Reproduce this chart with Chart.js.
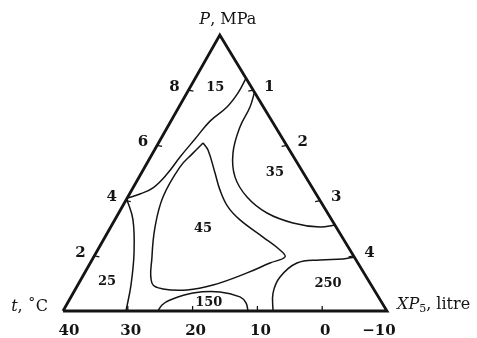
<!DOCTYPE html>
<html>
<head>
<meta charset="utf-8">
<script src="https://cdn.jsdelivr.net/npm/chart.js@4.4.1/dist/chart.umd.min.js"></script>
<style>
  html, body { margin: 0; padding: 0; background: #fff; }
  #wrap { width: 477px; height: 338px; position: relative; }
</style>
</head>
<body>
<div id="wrap"><canvas id="chart"></canvas></div>
<script>
// plot coords: x = t (°C) along the base, y = P (MPa) height of the triangle
const corners = [{x: 40, y: 0}, {x: 15.8, y: 10}, {x: -10, y: 0}];  // t-corner, P-corner, XP5-corner
const tTicks = [40, 30, 20, 10, 0, -10];
const pTicks = [2, 4, 6, 8];
const xpTicks = [1, 2, 3, 4];
const pMax = 10;
const xpMax = 5;

// contour lines
const line15 = [
    {x: 30.09, y: 4.09}, {x: 28.12, y: 4.24}, {x: 26.11, y: 4.46}, {x: 23.95, y: 4.96},
    {x: 21.94, y: 5.58}, {x: 19.63, y: 6.23}, {x: 17.31, y: 6.88}, {x: 14.69, y: 7.39},
    {x: 12.99, y: 7.90}, {x: 11.75, y: 8.44}
];
const line35 = [
    {x: 10.44, y: 7.93}, {x: 11.14, y: 7.39}, {x: 12.69, y: 6.67}, {x: 13.77, y: 5.72},
    {x: 13.46, y: 4.86}, {x: 11.60, y: 4.13}, {x: 8.52, y: 3.55}, {x: 4.51, y: 3.19},
    {x: 0.34, y: 3.04}, {x: -1.96, y: 3.12}
];
const loop45 = [
    {x: 18.40, y: 6.09}, {x: 17.62, y: 5.83}, {x: 16.54, y: 5.00}, {x: 15.77, y: 4.38},
    {x: 14.54, y: 3.77}, {x: 12.69, y: 3.30}, {x: 9.14, y: 2.68}, {x: 6.51, y: 2.21},
    {x: 5.74, y: 1.96}, {x: 8.06, y: 1.74}, {x: 11.60, y: 1.38}, {x: 16.85, y: 0.94},
    {x: 20.86, y: 0.76}, {x: 24.57, y: 0.80}, {x: 26.27, y: 1.01}, {x: 26.27, y: 1.96},
    {x: 25.80, y: 3.04}, {x: 24.57, y: 4.13}, {x: 21.94, y: 5.22}, {x: 19.94, y: 5.72},
    {x: 18.40, y: 6.09}
];
const line25 = [
    {x: 30.16, y: 4.06}, {x: 29.20, y: 3.30}, {x: 29.04, y: 2.10}, {x: 29.51, y: 0.94},
    {x: 30.28, y: 0}
];
const line150 = [
    {x: 25.34, y: 0}, {x: 24.72, y: 0.22}, {x: 23.49, y: 0.40}, {x: 19.94, y: 0.65},
    {x: 15.77, y: 0.69}, {x: 12.69, y: 0.51}, {x: 11.76, y: 0.29}, {x: 11.45, y: 0}
];
const line250 = [
    {x: 7.59, y: 0}, {x: 7.59, y: 0.65}, {x: 6.51, y: 1.23}, {x: 3.89, y: 1.74},
    {x: 0.34, y: 1.85}, {x: -3.21, y: 1.88}, {x: -5.0, y: 1.96}
];

const zoneLabels = [
    {text: '15', x: 16.5, y: 8.1},
    {text: '35', x: 7.3, y: 5.0},
    {text: '45', x: 18.4, y: 3.0},
    {text: '25', x: 33.2, y: 1.05},
    {text: '150', x: 17.5, y: 0.3},
    {text: '250', x: -0.9, y: 1.0}
];

const INK = '#141414';
const SERIF = '"DejaVu Serif", serif';

function contour(data) {
    return {data: data, showLine: true, borderColor: INK, borderWidth: 1.5,
            pointRadius: 0, tension: 0.4, clip: false};
}

const lerp = (a, b, f) => ({x: a.x + (b.x - a.x) * f, y: a.y + (b.y - a.y) * f});

// draws tick marks, numbers, zone labels and axis titles on the triangle
const ternaryAxes = {
    id: 'ternaryAxes',
    afterDatasetsDraw(chart) {
        const {ctx, scales: {x, y}} = chart;
        const toPx = p => ({x: x.getPixelForValue(p.x), y: y.getPixelForValue(p.y)});
        const [bl, top, br] = corners;
        ctx.save();
        ctx.strokeStyle = INK;
        ctx.fillStyle = INK;
        ctx.lineWidth = 1.3;
        ctx.font = 'bold 15px ' + SERIF;
        ctx.textAlign = 'center';
        ctx.textBaseline = 'middle';

        pTicks.forEach(v => {
            const p = toPx(lerp(bl, top, v / pMax));
            ctx.beginPath(); ctx.moveTo(p.x, p.y); ctx.lineTo(p.x + 5, p.y + 1); ctx.stroke();
            ctx.fillText(String(v), p.x - 14, p.y - 3);
        });
        xpTicks.forEach(v => {
            const p = toPx(lerp(top, br, v / xpMax));
            ctx.beginPath(); ctx.moveTo(p.x, p.y); ctx.lineTo(p.x - 5, p.y + 1); ctx.stroke();
            ctx.fillText(String(v), p.x + 16, p.y - 3);
        });
        ctx.textBaseline = 'alphabetic';
        tTicks.forEach((v, i) => {
            const p = toPx({x: v, y: 0});
            if (i > 0 && i < tTicks.length - 1) {
                ctx.beginPath(); ctx.moveTo(p.x, p.y); ctx.lineTo(p.x, p.y - 5); ctx.stroke();
            }
            let dx = 3;
            if (i === 0) dx = 6;
            if (i === tTicks.length - 1) dx = -8;
            ctx.fillText(v < 0 ? '\u2212' + Math.abs(v) : String(v), p.x + dx, p.y + 24);
        });

        ctx.font = 'bold 13px ' + SERIF;
        ctx.textBaseline = 'middle';
        zoneLabels.forEach(l => {
            const p = toPx(l);
            ctx.fillText(l.text, p.x, p.y);
        });

        // axis titles, drawn piece by piece for the italics
        const pieces = (parts, startX, baseY) => {
            let cx = startX;
            parts.forEach(pt => {
                ctx.font = pt.font;
                ctx.fillText(pt.text, cx, baseY + (pt.dy || 0));
                cx += ctx.measureText(pt.text).width;
            });
            return cx;
        };
        const width = parts => parts.reduce((w, pt) => { ctx.font = pt.font; return w + ctx.measureText(pt.text).width; }, 0);
        ctx.textAlign = 'left';
        ctx.textBaseline = 'alphabetic';

        const pTitle = [
            {text: 'P', font: 'italic 16px ' + SERIF},
            {text: ', MPa', font: '16px ' + SERIF}
        ];
        const tp = toPx(top);
        pieces(pTitle, tp.x + 8 - width(pTitle) / 2, tp.y - 11);

        const tTitle = [
            {text: 't', font: 'italic 16px ' + SERIF},
            {text: ', \u02daC', font: '16px ' + SERIF}
        ];
        const lp = toPx(bl);
        pieces(tTitle, lp.x - 15 - width(tTitle), lp.y);

        const xTitle = [
            {text: 'XP', font: 'italic 16px ' + SERIF},
            {text: '5', font: '11px ' + SERIF, dy: 3},
            {text: ', litre', font: '16px ' + SERIF}
        ];
        const rp = toPx(br);
        pieces(xTitle, rp.x + 10, rp.y - 2);
        ctx.restore();
    }
};

new Chart(document.getElementById('chart'), {
    type: 'scatter',
    data: {
        datasets: [
            {data: corners.concat([corners[0]]), showLine: true, borderColor: INK,
             borderWidth: 2.8, pointRadius: 0, tension: 0, clip: false},
            contour(line15),
            contour(line35),
            contour(loop45),
            contour(line25),
            contour(line150),
            contour(line250)
        ]
    },
    options: {
        responsive: true,
        maintainAspectRatio: false,
        animation: false,
        layout: {padding: {left: 63, right: 90, top: 35, bottom: 27}},
        plugins: {legend: {display: false}, tooltip: {enabled: false}},
        scales: {
            x: {type: 'linear', reverse: true, min: -10, max: 40, display: false},
            y: {type: 'linear', min: 0, max: 10, display: false}
        }
    },
    plugins: [ternaryAxes]
});
</script>
</body>
</html>
